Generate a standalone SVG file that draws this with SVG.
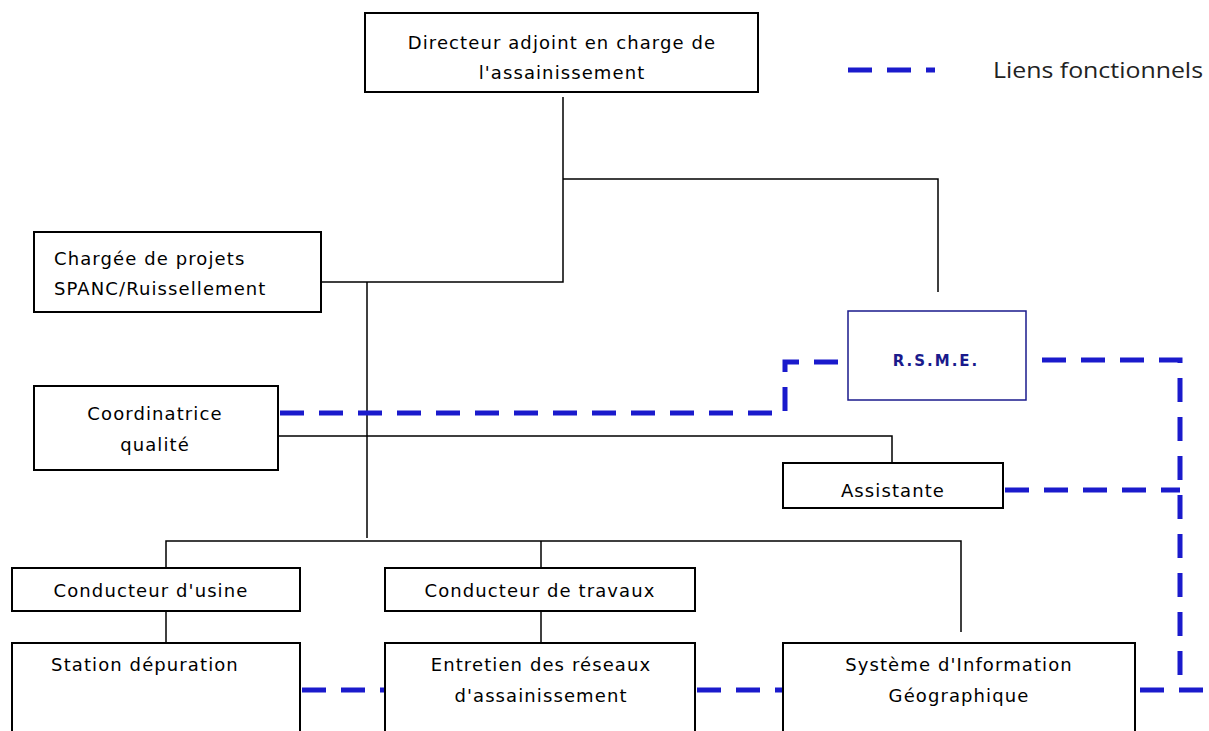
<svg xmlns="http://www.w3.org/2000/svg" width="1209" height="731" viewBox="0 0 1209 731">
<style>
.box{fill:#fff;stroke:#000;stroke-width:2}
.rs{fill:#fff;stroke:#1a1a8c;stroke-width:1.5}
.t{font-family:"DejaVu Sans",sans-serif;font-size:18px;letter-spacing:1.1px;fill:#000;text-anchor:middle}
.tl{text-anchor:start}
.ln{fill:none;stroke:#000;stroke-width:1.5}
.dash{fill:none;stroke:#1a1acc;stroke-width:5;stroke-dasharray:24,15}
</style>
<rect width="1209" height="731" fill="#fff"/>
<g id="connectors">
<path class="ln" d="M563,97 V282 H321"/>
<path class="ln" d="M563,179 H938 V292"/>
<path class="ln" d="M367,282 V538"/>
<path class="ln" d="M278,436 H892 V463"/>
<path class="ln" d="M166,567 V541 H961 V632"/>
<path class="ln" d="M541,541 V567"/>
<path class="ln" d="M166,611 V643"/>
<path class="ln" d="M541,611 V643"/>
<path class="dash" d="M280,413 H785 V362 H848"/>
<path class="dash" d="M1042,360 H1180 V690"/>
<path class="dash" d="M1005,490 H1180"/>
<path class="dash" d="M302,690 H385"/>
<path class="dash" d="M697,690 H783"/>
<path class="dash" d="M1140,690 H1205"/>
</g>
<g id="legend">
<path class="dash" d="M848,70 H935" stroke-dasharray="12,14"/>
<text x="993" y="78" font-family="'Open Sans','DejaVu Sans',sans-serif" font-size="22" fill="#222" textLength="210" lengthAdjust="spacingAndGlyphs">Liens fonctionnels</text>
</g>
<g id="directeur">
<rect class="box" x="365" y="13" width="393" height="79"/>
<text class="t" x="562" y="49">Directeur adjoint en charge de</text>
<text class="t" x="562" y="79">l'assainissement</text>
</g>
<g id="chargee">
<rect class="box" x="34" y="232" width="287" height="80"/>
<text class="t tl" x="54" y="265">Chargée de projets</text>
<text class="t tl" x="54" y="295">SPANC/Ruissellement</text>
</g>
<g id="coordinatrice">
<rect class="box" x="34" y="386" width="244" height="84"/>
<text class="t" x="155" y="420">Coordinatrice</text>
<text class="t" x="155" y="451">qualité</text>
</g>
<g id="rsme">
<rect class="rs" x="848" y="311" width="178" height="89"/>
<text x="936" y="366" font-family="'DejaVu Sans',sans-serif" font-size="15" font-weight="bold" fill="#1a1a8c" text-anchor="middle" letter-spacing="2">R.S.M.E.</text>
</g>
<g id="assistante">
<rect class="box" x="783" y="463" width="220" height="45"/>
<text class="t" x="893" y="497">Assistante</text>
</g>
<g id="conducteur-usine">
<rect class="box" x="12" y="568" width="288" height="43"/>
<text class="t" x="151" y="597">Conducteur d'usine</text>
</g>
<g id="conducteur-travaux">
<rect class="box" x="385" y="568" width="310" height="43"/>
<text class="t" x="540" y="597">Conducteur de travaux</text>
</g>
<g id="station">
<rect class="box" x="12" y="643" width="288" height="100"/>
<text class="t" x="145" y="671">Station dépuration</text>
</g>
<g id="entretien">
<rect class="box" x="385" y="643" width="310" height="100"/>
<text class="t" x="541" y="671">Entretien des réseaux</text>
<text class="t" x="541" y="702">d'assainissement</text>
</g>
<g id="sig">
<rect class="box" x="783" y="643" width="352" height="100"/>
<text class="t" x="959" y="671">Système d'Information</text>
<text class="t" x="959" y="702">Géographique</text>
</g>
</svg>
